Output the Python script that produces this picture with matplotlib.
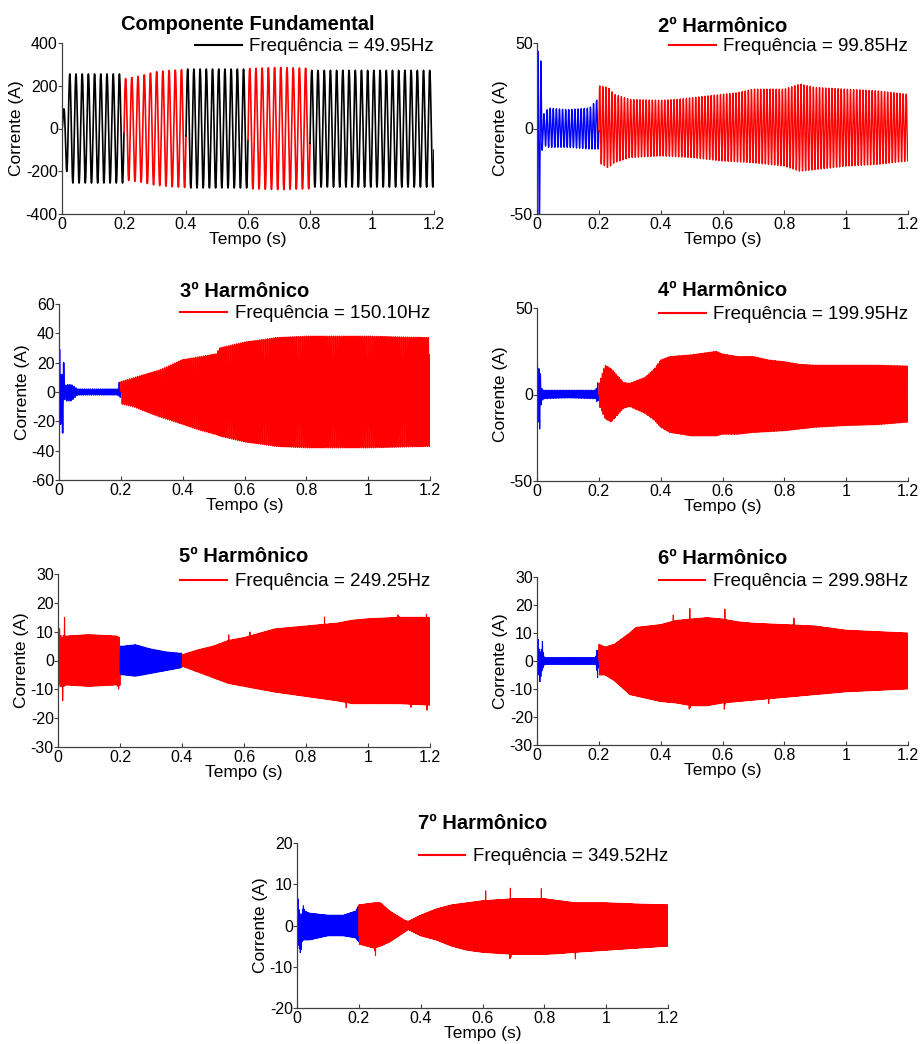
import numpy as np
import matplotlib
matplotlib.use('Agg')
import matplotlib.pyplot as plt
from matplotlib.lines import Line2D
from matplotlib.ticker import FormatStrFormatter

plt.rcParams['font.family'] = ['Liberation Sans', 'DejaVu Sans']

# titulos e frequencias de cada componente
titles = ['Componente Fundamental', '2º Harmônico', '3º Harmônico', '4º Harmônico',
          '5º Harmônico', '6º Harmônico', '7º Harmônico']
freqs = [49.95, 99.85, 150.10, 199.95, 249.25, 299.98, 349.52]
y_lims = [400, 50, 60, 50, 30, 30, 20]
y_steps = [200, 50, 20, 50, 10, 10, 10]

# envoltorias (tempo, pico superior, pico inferior)
f1_t = [0, 0.005, 0.015, 0.025, 0.199, 0.2, 0.25, 0.3, 0.35, 0.399, 0.4, 0.599, 0.6, 0.7, 0.799, 0.8, 1.2]
f1_up = [0, 85, 200, 255, 255, 232, 245, 265, 272, 276, 278, 278, 280, 286, 281, 272, 272]
f1_lo = [0, -85, -200, -255, -255, -240, -250, -265, -272, -276, -278, -278, -282, -286, -282, -274, -274]

h2_t = [0, 0.0025, 0.0075, 0.0125, 0.0175, 0.025, 0.035, 0.1, 0.17, 0.195, 0.1999, 0.2, 0.23, 0.25, 0.3,
        0.4, 0.45, 0.5, 0.55, 0.6, 0.65, 0.7, 0.8, 0.85, 0.9, 1.0, 1.1, 1.15, 1.2]
h2_up = [0, 45, 60, 39, 10, 8, 12, 11, 12, 17, 17, 25, 24, 20, 17, 16.5, 17, 18, 19, 20, 21, 23, 23, 26,
         24, 23, 22, 21, 20]
h2_lo = [0, -45, -62, -39, -10, -10, -11, -11, -12, -12, -12, -20, -23, -20, -17, -16, -16.5, -17, -18,
         -19, -19.5, -20, -22, -25, -24, -22, -21, -20, -19]

h3_t = [0, 0.0017, 0.005, 0.0083, 0.0117, 0.015, 0.0183, 0.025, 0.04, 0.06, 0.1, 0.19, 0.1966, 0.1999,
        0.2, 0.24, 0.326, 0.4, 0.455, 0.509, 0.52, 0.6, 0.67, 0.7, 0.8, 1.0, 1.2]
h3_up = [0, 29, 8, 12, 6, 20, 4, 5, 5, 2, 2, 2, 8, 3, 7, 9.6, 15, 22, 24, 26, 30, 34, 36, 37, 38, 38, 37]
h3_lo = [0, -8, -22, -10, -28, -8, -5, -6, -6, -2, -2, -2, -4, -3, -8, -10, -17, -22, -26, -29, -30,
         -34, -36, -37, -38, -38, -37]

h4_t = [0, 0.00125, 0.00375, 0.00625, 0.00875, 0.01125, 0.01375, 0.02, 0.1, 0.19, 0.196, 0.1999, 0.2,
        0.22, 0.24, 0.26, 0.28, 0.3, 0.35, 0.38, 0.4, 0.43, 0.5, 0.58, 0.6, 0.65, 0.7, 0.75, 0.8, 0.85,
        0.9, 1.0, 1.1, 1.2]
h4_up = [0, 19, 12, 15, 8, 12, 4, 2.5, 2.5, 2.5, 7, 3, 6, 17, 15, 11, 7, 6.5, 10, 15, 20, 22, 23, 25,
         23.5, 22, 22, 20, 19, 17.5, 17, 17, 17, 16.5]
h4_lo = [0, -8, -16, -10, -20, -8, -6, -2.5, -2, -2.5, -5, -3, -6, -14, -16, -12, -8, -7, -11, -15, -19,
         -22, -24, -24, -23, -23, -22, -21.5, -21, -20, -19, -18, -17.5, -16]

h5_t = [0, 0.003, 0.007, 0.013, 0.015, 0.018, 0.021, 0.025, 0.1, 0.19, 0.196, 0.1999, 0.2, 0.21, 0.25,
        0.3, 0.35, 0.3999, 0.4, 0.45, 0.5, 0.55, 0.6, 0.65, 0.7, 0.8, 0.9, 0.95, 1.0, 1.1, 1.2]
h5_up = [8, 13, 9, 8, 8, 9, 15, 8.5, 9, 8.5, 8, 8, 5, 5, 5.5, 4, 3, 2.5, 2, 3.7, 5, 7, 8, 9.5, 11, 12,
         13, 14, 14.5, 15, 15]
h5_lo = [-5, -8, -9, -9, -14, -9, -9, -8.5, -9, -8.5, -10, -8.5, -5, -5, -5.5, -4.5, -3.5, -2.5, -2, -4,
         -6, -8, -9, -10, -11, -12.5, -14, -15, -15, -15, -15.5]

h6_t = [0, 0.0025, 0.006, 0.01, 0.014, 0.0175, 0.022, 0.03, 0.1, 0.19, 0.196, 0.1999, 0.2, 0.22, 0.25,
        0.3, 0.32, 0.4, 0.45, 0.5, 0.55, 0.6, 0.65, 0.7, 0.8, 0.9, 1.0, 1.1, 1.2]
h6_up = [0, 10, 5, 3, 4, 7, 1.5, 1.2, 1.2, 1.2, 5, 1.5, 6, 5, 6, 10, 12, 13, 14.5, 15, 15.5, 15, 14,
         13.5, 13, 12.5, 11, 10.5, 10]
h6_lo = [0, -3, -5, -8, -4, -3, -1.5, -1.2, -1.2, -1.2, -6, -1.5, -5, -5, -7, -12, -12.5, -14.5, -15,
         -16, -16, -15, -14.5, -14, -13, -12, -11, -10.5, -10]

h7_t = [0, 0.002, 0.006, 0.012, 0.016, 0.02, 0.025, 0.04, 0.1, 0.15, 0.19, 0.1999, 0.2, 0.25, 0.27,
        0.3, 0.35, 0.36, 0.4, 0.45, 0.5, 0.55, 0.6, 0.7, 0.8, 0.85, 0.9, 1.0, 1.1, 1.2]
h7_up = [0, 8, 4, 2, 3, 5, 3.5, 3, 2.5, 2.5, 3.5, 5, 5, 5.5, 5.5, 3.5, 1.2, 1, 2.5, 4, 5, 5.5, 6, 6.5,
         6.5, 6, 5.5, 5.5, 5.2, 5]
h7_lo = [0, -4, -5, -7, -4, -3.5, -3.5, -3.5, -2.5, -2.5, -3, -4, -4.5, -5.5, -5, -4, -1.5, -1, -2.5,
         -3.5, -5, -6, -6.5, -7, -7, -6.8, -6.5, -6, -5.5, -5]

env_t = [f1_t, h2_t, h3_t, h4_t, h5_t, h6_t, h7_t]
env_up = [f1_up, h2_up, h3_up, h4_up, h5_up, h6_up, h7_up]
env_lo = [f1_lo, h2_lo, h3_lo, h4_lo, h5_lo, h6_lo, h7_lo]

# picos isolados visiveis (tempo, valor)
spike_t = [[], [], [], [], [0.55, 0.62, 0.86, 1.098, 1.19, 1.14, 1.19, 0.93],
           [0.44, 0.494, 0.607, 0.83, 0.494, 0.607, 0.75],
           [0.253, 0.61, 0.69, 0.79, 0.69, 0.9]]
spike_v = [[], [], [], [], [9.5, 11, 15.5, 17.6, 17.3, -18, -17.7, -16.5],
           [17.5, 19, 19.5, 16.6, -19, -19, -16],
           [-8.3, 8.5, 9.3, 9.3, -9, -8.5]]

# trechos coloridos: limites em tempo e cor de cada trecho
seg_edges = [[0, 0.2, 0.4, 0.6, 0.8, 1.2], [0, 0.2, 1.2], [0, 0.2, 1.2], [0, 0.2, 1.2],
             [0, 0.2, 0.4, 1.2], [0, 0.2, 1.2], [0, 0.2, 1.2]]
seg_colors = [['k', 'r', 'k', 'r', 'k'], ['b', 'r'], ['b', 'r'], ['b', 'r'],
              ['r', 'b', 'r'], ['b', 'r'], ['b', 'r']]
leg_colors = ['k', 'r', 'r', 'r', 'r', 'r', 'r']

# posicoes dos eixos em pixels (esq, topo, dir, base)
W, H = 922, 1044
boxes = [(62, 43, 434, 214), (537, 43, 908, 214), (59, 304, 430, 480), (537, 308, 908, 481),
         (58, 574, 430, 747), (537, 577, 908, 745), (297, 843, 668, 1008)]
title_pads = [9.4, 7.9, 5.0, 8.6, 8.6, 9.4, 10.0]
leg_off = [5, 5, 11, 8, 9, 6, 15]
line_w = [1.2, 1.0, 1.1, 0.8, 0.8, 0.8, 0.8]

fig = plt.figure(figsize=(W / 100, H / 100), dpi=100, facecolor='w')
t = np.linspace(0, 1.2, 36001)

for i in range(7):
    l, tp, r, b = boxes[i]
    ax = fig.add_axes([l / W, 1 - b / H, (r - l) / W, (b - tp) / H])
    up = np.interp(t, env_t[i], env_up[i])
    lo = np.interp(t, env_t[i], env_lo[i])
    for ts, v in zip(spike_t[i], spike_v[i]):
        w = np.clip(1 - np.abs(t - ts) / 0.0025, 0, 1)
        if v > 0:
            up = up + w * (v - np.interp(ts, env_t[i], env_up[i]))
        else:
            lo = lo + w * (v - np.interp(ts, env_t[i], env_lo[i]))
    y = (up + lo) / 2 + (up - lo) / 2 * np.sin(2 * np.pi * freqs[i] * t)
    edges = seg_edges[i]
    for k in range(len(edges) - 1):
        m = (t >= edges[k]) & (t <= edges[k + 1])
        ax.plot(t[m], y[m], color=seg_colors[i][k], lw=line_w[i])
    ax.set_xlim(0, 1.2)
    ax.set_ylim(-y_lims[i], y_lims[i])
    ax.set_xticks(np.arange(0, 1.21, 0.2))
    ax.set_yticks(np.arange(-y_lims[i], y_lims[i] + 0.1, y_steps[i]))
    ax.xaxis.set_major_formatter(FormatStrFormatter('%g'))
    ax.yaxis.set_major_formatter(FormatStrFormatter('%g'))
    for s in ['top', 'right']:
        ax.spines[s].set_visible(False)
    for s in ['left', 'bottom']:
        ax.spines[s].set_color('#404040')
        ax.spines[s].set_linewidth(0.9)
    ax.tick_params(axis='x', direction='in', length=3, pad=2, labelsize=11.5, color='#404040')
    ax.tick_params(axis='y', direction='out', length=3, pad=0, labelsize=11.5, color='#404040')
    ax.set_xlabel('Tempo (s)', fontsize=12.5, labelpad=0)
    ax.set_ylabel('Corrente (A)', fontsize=12.5, labelpad=1)
    ax.set_title(titles[i], fontsize=14.5, fontweight='bold', pad=title_pads[i])
    h_px = b - tp
    handle = Line2D([], [], color=leg_colors[i], lw=1.5)
    ax.legend([handle], ['Frequência = %.2fHz' % freqs[i]], loc='upper right',
              bbox_to_anchor=(1.0, 1 - (leg_off[i] - 10) / h_px), frameon=False, fontsize=13.5,
              borderpad=0, borderaxespad=0, handlelength=2.5, handletextpad=0.4)

plt.savefig('out.png', dpi=100)
